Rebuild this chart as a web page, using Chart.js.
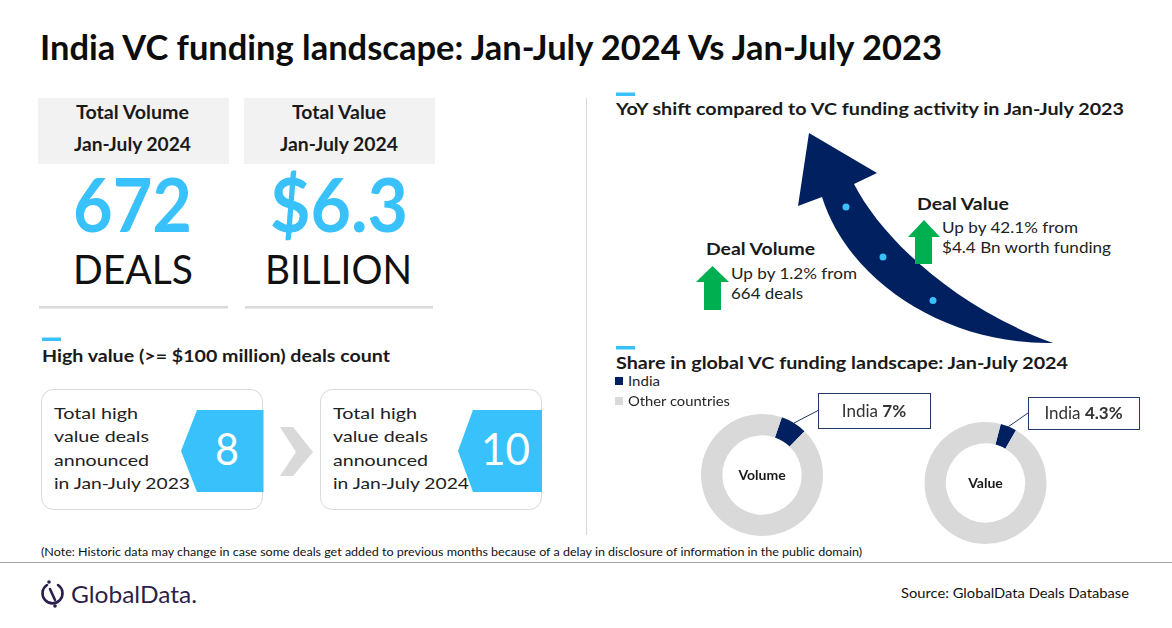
<!DOCTYPE html>
<html>
<head>
<meta charset="utf-8">
<script src="https://cdn.jsdelivr.net/npm/chart.js@4.4.1/dist/chart.umd.min.js"></script>
<style>
html, body { margin: 0; padding: 0; background: #fff; }
#page { position: relative; width: 1172px; height: 628px; overflow: hidden; font-family: Lato, "Open Sans", sans-serif; color: #1a1a1a; }
.t { position: absolute; white-space: nowrap; transform-origin: 0 0; }
.abs { position: absolute; }
</style>
</head>
<body>
<div id="page">
  <svg class="abs" style="left:0;top:0" width="1172" height="628">
    <!-- KPI headers -->
    <rect x="38" y="98" width="191" height="66" fill="#f2f2f2"/>
    <rect x="244" y="98" width="191" height="66" fill="#f2f2f2"/>
    <rect x="39" y="306" width="189" height="2.5" fill="#d9d9d9"/>
    <rect x="245" y="306" width="188" height="2.5" fill="#d9d9d9"/>
    <rect x="42" y="337.5" width="19" height="3.5" fill="#38c1fa"/>
    <!-- high value boxes -->
    <rect x="41.5" y="389.5" width="221" height="120" rx="12" fill="#fff" stroke="#d9d9d9"/>
    <rect x="320.5" y="389.5" width="221" height="120" rx="12" fill="#fff" stroke="#d9d9d9"/>
    <polygon points="197,410 263.5,410 263.5,492 197,492 181,451" fill="#38c1fa"/>
    <polygon points="473,410 542,410 542,492 473,492 458,451" fill="#38c1fa"/>
    <polygon points="280,427 293,427 313,452 293,476 280,476 296,452" fill="#d9d9d9"/>
    <!-- divider -->
    <line x1="586.5" y1="98" x2="586.5" y2="535" stroke="#d9d9d9"/>
    <rect x="616" y="92.5" width="19" height="3.5" fill="#38c1fa"/>
    <rect x="616" y="346" width="19" height="3.5" fill="#38c1fa"/>
    <!-- big arrow -->
    <path d="M809,133 L877,173 L854,184 C880,235 950,305 1053,343 C950,345 850,285 822,197 L798,206 Z" fill="#002060"/>
    <circle cx="846" cy="207" r="3.5" fill="#38c1fa"/>
    <circle cx="883" cy="257" r="3.5" fill="#38c1fa"/>
    <circle cx="933" cy="300.5" r="3.5" fill="#38c1fa"/>
    <!-- green up arrows -->
    <polygon points="712.5,266 729,282 721,282 721,310 704,310 704,282 696,282" fill="#00b050"/>
    <polygon points="924,220 940,237 932,237 932,264 915,264 915,237 908,237" fill="#00b050"/>
    <!-- footer -->
    <line x1="0" y1="562.5" x2="1172" y2="562.5" stroke="#a6a6a6"/>
    <g stroke="#2c1f4e" stroke-width="2.6" fill="none" stroke-linecap="round">
      <path d="M47,585 A10,10 0 1 0 58,585"/>
      <line x1="50" y1="589" x2="55" y2="600"/>
    </g>
    <circle cx="49" cy="582" r="1.8" fill="#2c1f4e"/>
    <circle cx="55" cy="606" r="1.8" fill="#2c1f4e"/>
  </svg>
  <canvas id="volChart" class="abs" width="250" height="160" style="left:690px;top:385px"></canvas>
  <canvas id="valChart" class="abs" width="235" height="165" style="left:915px;top:385px"></canvas>
</div>
<script>
// share of global VC funding, Jan-July 2024
const shareLabels = ['India', 'Other countries'];
const shareColors = ['#002060', '#d9d9d9'];
const volumeShare = [7, 93];
const valueShare = [4.3, 95.7];
const donutNames = ['Volume', 'Value'];

// headline numbers
const kpiTitles = ['Total Volume', 'Total Value'];
const kpiNumbers = ['672', '$6.3'];
const kpiUnits = ['DEALS', 'BILLION'];
const highValueYears = ['2023', '2024'];
const highValueDeals = [8, 10];
const yoyNames = ['Deal Volume', 'Deal Value'];
const yoyChange = [1.2, 42.1];
const yoyBase = ['664 deals', '$4.4 Bn worth funding'];

const page = document.getElementById('page');

// text helper: cy = centre of capitals, w = width to fit
const txt = function (str, x, cy, fs, w, opt) {
    opt = opt || {};
    let el = document.createElement('div');
    el.className = 't';
    el.style.left = x + 'px';
    el.style.top = (cy - 0.629 * fs) + 'px';
    el.style.fontSize = fs + 'px';
    el.style.lineHeight = (1.2 * fs) + 'px';
    el.style.fontWeight = opt.bold ? 700 : 400;
    if (opt.color) el.style.color = opt.color;
    if (opt.html) el.innerHTML = str; else el.textContent = str;
    page.appendChild(el);
    if (w) {
        let real = el.getBoundingClientRect().width;
        el.style.transform = 'scaleX(' + (w / real) + ')';
    }
    return el;
}

txt('India VC funding landscape: Jan-July 2024 Vs Jan-July 2023', 40, 48.5, 34, 902, { bold: true, color: '#0d0d0d' });

// KPI blocks
txt(kpiTitles[0], 76, 113, 18, 113, { bold: true });
txt('Jan-July 2024', 74, 145, 18, 117, { bold: true });
txt(kpiTitles[1], 292, 113, 18, 94, { bold: true });
txt('Jan-July 2024', 280, 145, 18, 118, { bold: true });
txt(kpiNumbers[0], 73, 205, 75, 119, { bold: true, color: '#38c1fa' });
txt(kpiNumbers[1], 270, 205, 75, 138, { bold: true, color: '#38c1fa' });
txt(kpiUnits[0], 73, 270, 41, 120, { color: '#111' });
txt(kpiUnits[1], 265, 270, 41, 147, { color: '#111' });

txt('High value (>= $100 million) deals count', 42, 356.5, 17, 348, { bold: true });
const boxLines = ['Total high', 'value deals', 'announced'];
const boxWidths = [84, 95, 95];
[53.5, 333].forEach((bx, i) => {
    boxLines.forEach((l, j) => txt(l, bx, 413 + j * 23.3, 16, boxWidths[j], { color: '#222' }));
    txt('in Jan-July ' + highValueYears[i], bx, 483, 16, 136, { color: '#222' });
});
txt(String(highValueDeals[0]), 227 - 12, 450, 44, 24, { color: '#fff' });
txt(String(highValueDeals[1]), 505.5 - 24.5, 450, 44, 49, { color: '#fff' });

// YoY section
txt('YoY shift compared to VC funding activity in Jan-July 2023', 616, 110, 17, 508, { bold: true });
txt(yoyNames[0], 706, 250, 17, 109, { bold: true });
txt('Up by ' + yoyChange[0] + '% from', 731, 273, 16, 126, { color: '#222' });
txt(yoyBase[0], 731, 293, 16, 72, { color: '#222' });
txt(yoyNames[1], 917, 204.5, 17, 92, { bold: true });
txt('Up by ' + yoyChange[1] + '% from', 942, 227, 16, 136, { color: '#222' });
txt(yoyBase[1], 942, 247, 16, 169, { color: '#222' });

// share section
txt('Share in global VC funding landscape: Jan-July 2024', 616, 364, 17, 452, { bold: true });
const legendWidths = [32, 102];
shareLabels.forEach((l, i) => {
    let sq = document.createElement('div');
    sq.className = 'abs';
    sq.style.cssText = 'left:615px;top:' + (377 + i * 20) + 'px;width:8px;height:8px;background:' + shareColors[i];
    page.appendChild(sq);
    txt(l, 628, 381 + i * 20, 13.5, legendWidths[i], { color: '#262626' });
});

// footer
txt('(Note:  Historic data may change in case some deals get added to previous months because of a delay in disclosure of information in the public domain)', 41, 552, 11, 821, { color: '#111' });
txt('GlobalData.', 71, 595, 23, 126, { color: '#2c1f4e' });
txt('Source:  GlobalData Deals Database', 901, 594, 13, 228, { color: '#111' });

// donut callouts + centre names
const donutLabels = {
    id: 'donutLabels',
    afterDraw(chart, args, opts) {
        const ctx = chart.ctx;
        const arc = chart.getDatasetMeta(0).data[0];
        const p = arc.getProps(['x', 'y', 'startAngle', 'endAngle', 'outerRadius'], true);
        const mid = (p.startAngle + p.endAngle) / 2;
        const sx = p.x + Math.cos(mid) * p.outerRadius;
        const sy = p.y + Math.sin(mid) * p.outerRadius;
        const b = opts.box;
        ctx.save();
        ctx.strokeStyle = '#1f3864';
        ctx.lineWidth = 1;
        ctx.beginPath();
        ctx.moveTo(sx, sy);
        ctx.lineTo(b.x, b.y + b.h / 2);
        ctx.stroke();
        ctx.fillStyle = '#fff';
        ctx.fillRect(b.x, b.y, b.w, b.h);
        ctx.strokeRect(b.x + 0.5, b.y + 0.5, b.w, b.h);
        let name = chart.data.labels[0] + ' ';
        let val = chart.data.datasets[0].data[0] + '%';
        ctx.font = '400 17px Lato';
        let w1 = ctx.measureText(name).width;
        ctx.font = '700 17px Lato';
        let w2 = ctx.measureText(val).width;
        let tx = b.x + (b.w - w1 - w2) / 2;
        ctx.textBaseline = 'middle';
        ctx.fillStyle = '#333';
        ctx.font = '400 17px Lato';
        ctx.fillText(name, tx, b.y + b.h / 2 + 1);
        ctx.font = '700 17px Lato';
        ctx.fillText(val, tx + w1, b.y + b.h / 2 + 1);
        ctx.font = '700 14px Lato';
        ctx.textAlign = 'center';
        ctx.fillStyle = '#1a1a1a';
        ctx.fillText(opts.center, p.x, p.y);
        ctx.restore();
    }
};

const makeDonut = function (id, values, rotation, pad, center, box) {
    return new Chart(document.getElementById(id), {
        type: 'doughnut',
        data: {
            labels: shareLabels,
            datasets: [{ data: values, backgroundColor: shareColors, borderWidth: 0 }]
        },
        options: {
            responsive: false,
            animation: false,
            cutout: '65%',
            rotation: rotation,
            layout: { padding: pad },
            plugins: {
                legend: { display: false },
                tooltip: { enabled: false },
                donutLabels: { center: center, box: box }
            }
        },
        plugins: [donutLabels]
    });
}

makeDonut('volChart', volumeShare, 19, { left: 11, top: 29, right: 117, bottom: 9 }, donutNames[0], { x: 128, y: 8, w: 112, h: 35 });
makeDonut('valChart', valueShare, 14.5, { left: 9.5, top: 37, right: 103.5, bottom: 6 }, donutNames[1], { x: 113, y: 12, w: 111, h: 32 });
</script>
</body>
</html>
